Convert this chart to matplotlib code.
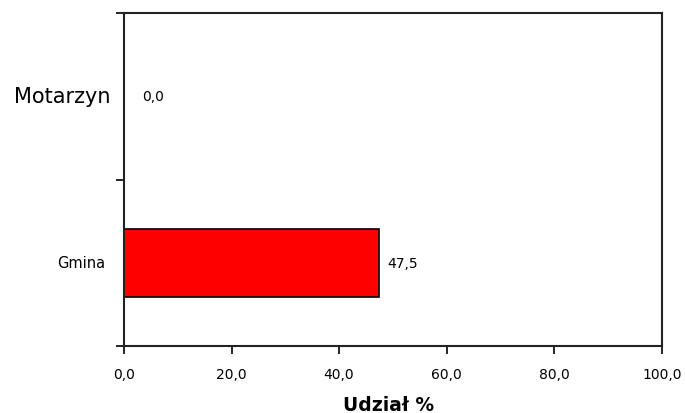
import matplotlib
matplotlib.use('Agg')
import matplotlib.pyplot as plt

# dane
kategorie = ['Motarzyn', 'Gmina']
udzial = [0.0, 47.5]
xticks = [0, 20, 40, 60, 80, 100]

fig = plt.figure(figsize=(6.85, 4.14), dpi=100)
ax = fig.add_axes([0.181, 0.162, 0.785, 0.804])

pos = [0, 1]
ax.barh(pos, udzial, height=0.41, color='#ff0000', edgecolor='black', linewidth=1.2)

for p, v in zip(pos, udzial):
    ax.text(v + 1.4 if v > 0 else 3.4, p, f'{v:.1f}'.replace('.', ','),
            va='center', ha='left', fontsize=10)

ax.set_xlim(0, 100)
ax.set_ylim(1.5, -0.5)
ax.set_xticks(xticks)
ax.set_xticklabels([f'{t:.1f}'.replace('.', ',') for t in xticks], fontsize=10)

# etykiety kategorii (różne rozmiary jak w oryginale)
ax.set_yticks([])
ax.set_yticks([-0.5, 0.5, 1.5], minor=True)
ax.tick_params(axis='y', which='minor', length=6, width=1.2)
ytr = ax.get_yaxis_transform()
ax.text(-0.026, 0, kategorie[0], transform=ytr, ha='right', va='center', fontsize=15)
ax.text(-0.034, 1, kategorie[1], transform=ytr, ha='right', va='center', fontsize=10.5)

ax.tick_params(axis='x', length=6, width=1.2, pad=9)

for s in ax.spines.values():
    s.set_linewidth(1.5)
    s.set_color('#222222')

ax.set_xlabel('Udział %', fontsize=13.5, fontweight='bold')
ax.xaxis.set_label_coords(0.492, -0.148)

fig.savefig('out.png', dpi=100)
